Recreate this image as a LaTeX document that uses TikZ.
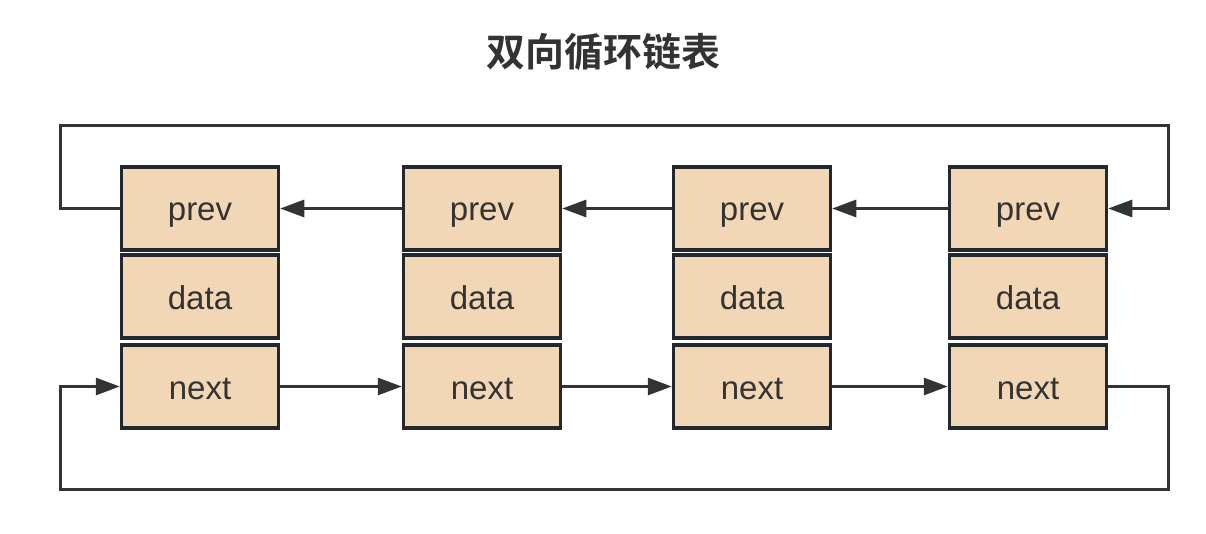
\documentclass[tikz,border=0pt]{standalone}
\usepackage{fontspec}
\setmainfont{Liberation Sans}
\newfontfamily\cjk{Noto Sans CJK SC}[BoldFont={Noto Sans CJK SC Bold}]
\usetikzlibrary{arrows.meta}
\definecolor{cellfill}{HTML}{F2D7B7}
\definecolor{cellline}{HTML}{23272E}
\definecolor{wire}{HTML}{333333}
\definecolor{txt}{HTML}{333333}
\begin{document}
\begin{tikzpicture}[x=1pt,y=-1pt,
  cell/.style={draw=cellline,fill=cellfill,line width=3.5pt,minimum width=157pt,minimum height=83pt,inner sep=0pt,text=txt,text height=25pt,text depth=0pt,font=\fontsize{33}{33}\selectfont},
  wire/.style={draw=wire,line width=3pt},
  arr/.style={wire,-{Triangle[length=24pt,width=17pt]}}]
\useasboundingbox (0,0) rectangle (1206,534);
\node[font=\cjk\bfseries\fontsize{39}{39}\selectfont,text=txt] (title) at (603,52) {双向循环链表};
\foreach \i/\x in {1/200,2/482,3/752,4/1028}{
  \node[cell] (p\i) at (\x,208.5) {prev};
  \node[cell] (d\i) at (\x,296.5) {data};
  \node[cell] (n\i) at (\x,386.5) {next};
}
\draw[arr] (p2.west) -- (p1.east);
\draw[arr] (p3.west) -- (p2.east);
\draw[arr] (p4.west) -- (p3.east);
\draw[arr] (n1.east) -- (n2.west);
\draw[arr] (n2.east) -- (n3.west);
\draw[arr] (n3.east) -- (n4.west);
\coordinate (tl) at (60,126);
\coordinate (tr) at (1168,126);
\coordinate (bl) at (60,489);
\coordinate (br) at (1168,489);
\draw[arr,line join=miter] (p1.west) -| (tl) -| (tr) |- (p4.east);
\draw[arr,line join=miter] (n4.east) -| (br) -| (bl) |- (n1.west);
\end{tikzpicture}
\end{document}
